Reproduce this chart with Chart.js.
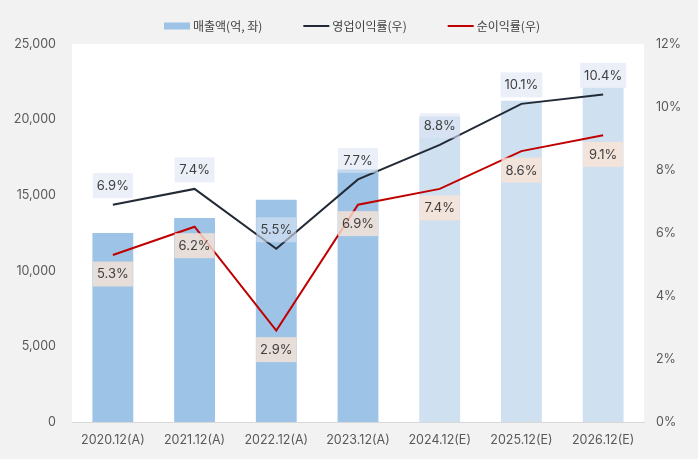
<!DOCTYPE html>
<html>
<head>
<meta charset="utf-8">
<script src="https://cdn.jsdelivr.net/npm/chart.js@4"></script>
<style>
  body { margin: 0; background: #f2f2f2; }
  #wrap { width: 698px; height: 459px; }
</style>
</head>
<body>
<div id="wrap"><canvas id="chart" width="698" height="459"></canvas></div>
<script>
// Dados do gráfico
const categorias = ['2020.12(A)', '2021.12(A)', '2022.12(A)', '2023.12(A)', '2024.12(E)', '2025.12(E)', '2026.12(E)'];
const vendas = [12500, 13500, 14700, 16700, 20200, 21250, 22100];
const margemOperacional = [6.9, 7.4, 5.5, 7.7, 8.8, 10.1, 10.4];
const margemLiquida = [5.3, 6.2, 2.9, 6.9, 7.4, 8.6, 9.1];
const estimado = [false, false, false, false, true, true, true];

const nomes = ['매출액(억, 좌)', '영업이익률(우)', '순이익률(우)'];
const cores = { barra: '#9dc3e6', barraEst: '#cfe0f1', op: '#222a35', liq: '#c00000' };
const fonte = "Inter, 'Noto Sans CJK KR', sans-serif";
const fonteKr = "'Noto Sans CJK KR', Inter, sans-serif";

// Fundo branco da área do gráfico
const fundoArea = {
    id: 'fundoArea',
    beforeDraw(chart) {
        const { ctx, chartArea: a } = chart;
        ctx.save();
        ctx.fillStyle = '#ffffff';
        ctx.fillRect(a.left, a.top, a.right - a.left, a.bottom - a.top);
        ctx.restore();
    }
};

// Rótulos dos pontos das linhas
const rotulos = {
    id: 'rotulos',
    afterDatasetsDraw(chart) {
        const ctx = chart.ctx;
        ctx.save();
        ctx.font = '13px ' + fonte;
        ctx.textAlign = 'center';
        ctx.textBaseline = 'middle';
        [[1, -19, 'rgba(220,228,243,0.6)'], [2, 19, 'rgba(250,228,214,0.8)']].forEach(([idx, dy, bg]) => {
            const meta = chart.getDatasetMeta(idx);
            const dados = chart.data.datasets[idx].data;
            meta.data.forEach((p, i) => {
                const txt = dados[i].toFixed(1) + '%';
                const w = Math.max(40, ctx.measureText(txt).width + 8);
                const h = 25;
                const cy = p.y + dy;
                ctx.fillStyle = bg;
                ctx.fillRect(p.x - w / 2, cy - h / 2, w, h);
                ctx.fillStyle = '#404040';
                ctx.fillText(txt, p.x, cy + 0.5);
            });
        });
        ctx.restore();
    }
};

// Legenda desenhada à mão
const legenda = {
    id: 'legendaManual',
    afterDraw(chart) {
        const { ctx } = chart;
        ctx.save();
        ctx.font = '12px ' + fonteKr;
        ctx.textBaseline = 'middle';
        const sw = 26, gapTxt = 3, gapItem = 41, y = 26;
        const larguras = nomes.map(n => sw + gapTxt + ctx.measureText(n).width);
        const total = larguras.reduce((s, v) => s + v, 0) + gapItem * (nomes.length - 1);
        let x = chart.width / 2 + 3 - total / 2;
        nomes.forEach((n, i) => {
            if (i === 0) {
                ctx.fillStyle = cores.barra;
                ctx.fillRect(x, y - 3.5, sw, 7);
            } else {
                ctx.strokeStyle = i === 1 ? cores.op : cores.liq;
                ctx.lineWidth = 2;
                ctx.beginPath();
                ctx.moveTo(x, y);
                ctx.lineTo(x + sw, y);
                ctx.stroke();
            }
            ctx.fillStyle = '#404040';
            ctx.fillText(n, x + sw + gapTxt, y);
            x += larguras[i] + gapItem;
        });
        ctx.restore();
    }
};

new Chart(document.getElementById('chart'), {
    data: {
        labels: categorias,
        datasets: [
            {
                type: 'bar',
                label: nomes[0],
                data: vendas,
                yAxisID: 'y',
                backgroundColor: estimado.map(e => e ? cores.barraEst : cores.barra),
                barPercentage: 0.5,
                categoryPercentage: 1,
                order: 3
            },
            {
                type: 'line',
                label: nomes[1],
                data: margemOperacional,
                yAxisID: 'y1',
                borderColor: cores.op,
                borderWidth: 2,
                pointRadius: 0,
                tension: 0,
                order: 2
            },
            {
                type: 'line',
                label: nomes[2],
                data: margemLiquida,
                yAxisID: 'y1',
                borderColor: cores.liq,
                borderWidth: 2,
                pointRadius: 0,
                tension: 0,
                order: 1
            }
        ]
    },
    options: {
        responsive: false,
        animation: false,
        layout: { padding: { top: 44, left: 0, right: 0, bottom: 0 } },
        plugins: { legend: { display: false }, tooltip: { enabled: false } },
        scales: {
            x: {
                grid: { display: false, drawTicks: false },
                border: { display: true, color: '#d9d9d9', width: 1 },
                ticks: { color: '#595959', font: { family: fonte, size: 12.5 }, padding: 11, maxRotation: 0 },
                afterFit: s => { s.height = 37; }
            },
            y: {
                position: 'left',
                min: 0, max: 25000,
                grid: { display: false, drawTicks: false },
                border: { display: false },
                ticks: {
                    stepSize: 5000,
                    color: '#595959',
                    font: { family: fonte, size: 12.5 },
                    padding: 16,
                    callback: v => v.toLocaleString('en-US')
                },
                afterFit: s => { s.width = 72; }
            },
            y1: {
                position: 'right',
                min: 0, max: 12,
                grid: { display: false, drawTicks: false },
                border: { display: false },
                ticks: {
                    stepSize: 2,
                    color: '#595959',
                    font: { family: fonte, size: 12.5 },
                    padding: 12,
                    callback: v => v + '%'
                },
                afterFit: s => { s.width = 54; }
            }
        }
    },
    plugins: [fundoArea, rotulos, legenda]
});
</script>
</body>
</html>
